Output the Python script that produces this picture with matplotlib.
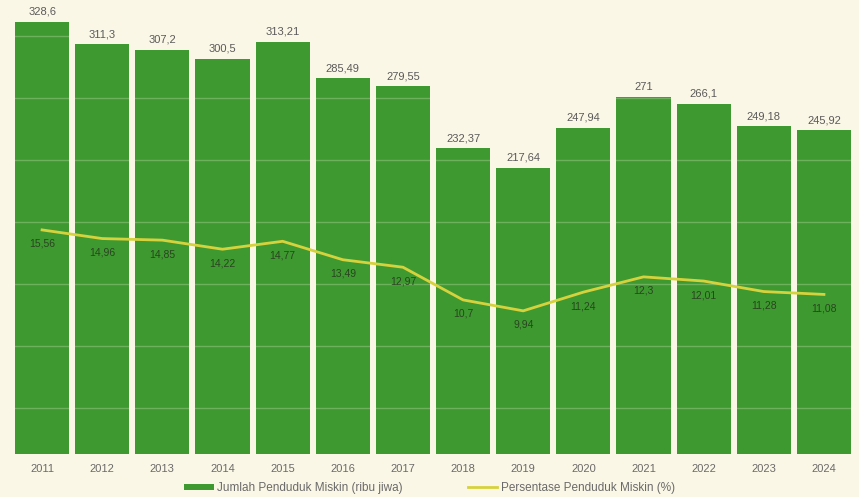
import matplotlib
matplotlib.use("Agg")
import matplotlib.pyplot as plt
import numpy as np

plt.rcParams['font.family'] = ['Liberation Sans', 'DejaVu Sans']

years = [2011, 2012, 2013, 2014, 2015, 2016, 2017, 2018, 2019, 2020, 2021, 2022, 2023, 2024]
jumlah = [328.6, 311.3, 307.2, 300.5, 313.21, 285.49, 279.55, 232.37, 217.64, 247.94, 271, 266.1, 249.18, 245.92]
persen = [15.56, 14.96, 14.85, 14.22, 14.77, 13.49, 12.97, 10.7, 9.94, 11.24, 12.3, 12.01, 11.28, 11.08]

bg = "#fbf7e6"
bar_col = "#3e9a30"
line_col = "#d6d23e"


def fmt(v):
    # indonesian decimal comma
    s = ('%g' % v)
    return s.replace('.', ',')


fig = plt.figure(figsize=(8.59, 4.97), dpi=100, facecolor=bg)
ax = fig.add_axes([12 / 859, 1 - 454 / 497, 842 / 859, 444 / 497])
ax.set_facecolor(bg)
x = np.arange(len(years))

bars = ax.bar(x, jumlah, width=0.9, color=bar_col, zorder=2,
              label="Jumlah Penduduk Miskin (ribu jiwa)")
for xi, v in zip(x, jumlah):
    ax.annotate(fmt(v), xy=(xi, v), xytext=(0, 5), textcoords='offset pixels',
                ha='center', va='bottom', fontsize=8, color='#5a5a5a')

ax.set_xlim(-0.5, len(years) - 0.5)
ax.set_ylim(0, 337.4)
# faint grid lines, only visible on top of the green bars
ax.set_yticks(np.arange(35, 337, 47.1))
ax.yaxis.grid(True, color=bg, alpha=0.25, lw=1.0, zorder=3)
ax.set_axisbelow(False)
ax.tick_params(axis='y', length=0, labelleft=False)
ax.set_xticks(x)
ax.set_xticklabels(years, fontsize=8, color='#6a6a6a')
ax.tick_params(axis='x', length=0, pad=7)
for s in ax.spines.values():
    s.set_visible(False)

ax2 = ax.twinx()
ax2.set_ylim(0, 30.83)
line, = ax2.plot(x, persen, color=line_col, lw=2, zorder=4,
                 label="Persentase Penduduk Miskin (%)")
for xi, v in zip(x, persen):
    ax2.annotate(fmt(v), xy=(xi, v), xytext=(0, -9), textcoords='offset pixels',
                 ha='center', va='top', fontsize=7.5, color='#2a4420')
ax2.set_yticks([])
for s in ax2.spines.values():
    s.set_visible(False)

fig.legend(handles=[bars, line], loc='lower center', bbox_to_anchor=(0.5, -0.015),
           ncol=2, frameon=False, fontsize=8.5, labelcolor='#6a6a6a',
           handlelength=2.5, handleheight=0.4, handletextpad=0.3, columnspacing=5.5)

fig.savefig("out.png", dpi=100, facecolor=bg)
